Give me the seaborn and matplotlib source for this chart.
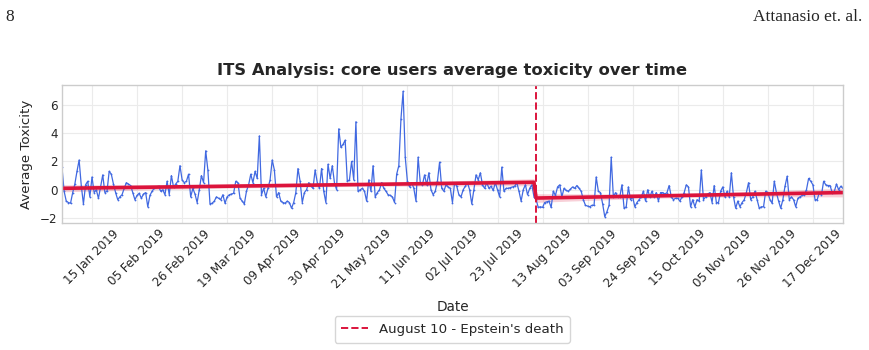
import numpy as np
import pandas as pd
import matplotlib
matplotlib.use('Agg')
import matplotlib.pyplot as plt
import matplotlib.dates as mdates
import seaborn as sns

# daily average toxicity of core users, 2019
jan = [1.6, -0.1, -0.8, -0.9, -0.95, -0.2, 0.4, 1.3, 2.1, 0.3, -1.0, 0.35, 0.6, -0.5, 0.9, -0.2,
       0.0, -0.6, 0.2, 1.05, -0.2, -0.1, 1.3, 1.1, 0.4, -0.2, -0.7, -0.5, -0.35, 0.1, 0.5]
feb = [0.4, 0.3, -0.2, -0.7, -0.4, -0.25, -0.6, -0.3, -0.2, -1.2, -0.4, -0.1, 0.1, 0.2, 0.25,
       -0.1, 0.0, -0.35, 0.6, -0.35, 1.0, 0.2, 0.4, 0.6, 1.7, 0.7, 0.5, 0.6]
mar = [1.1, -0.5, 0.1, -0.3, -0.9, 0.0, 1.0, 0.5, 2.75, 1.4, -1.0, -0.95, -0.8, -0.5, -0.6, -0.7,
       -0.35, -0.95, -0.5, -0.35, -0.3, -0.25, 0.6, 0.5, -0.6, -0.8, -1.0, -0.1, 0.35, 1.1, 0.5]
apr = [1.3, 0.8, 3.8, -0.35, 0.1, -0.5, 0.1, 0.7, 2.1, 1.4, -0.5, -0.2, -0.8, -0.9, -0.95,
       -0.8, -0.9, -1.3, -0.9, -0.2, 1.5, 0.6, -0.9, -0.2, 0.0, 0.5, 0.3, 0.1, 1.4, 0.5]
may = [0.1, 1.5, -0.1, -0.9, 1.8, 0.8, 1.7, 0.5, 0.0, 4.3, 3.0, 3.2, 3.5, 0.6, 0.7, 2.0,
       0.7, 4.8, -0.1, 0.0, 0.1, -0.1, -0.8, 0.7, -0.1, 1.7, -0.5, -0.2, 0.0, 0.5, 0.1]
jun = [-0.1, -0.35, -0.4, -0.5, -0.9, 1.1, 1.7, 5.0, 6.95, 2.3, 0.6, 0.2, 0.5, 0.1, -0.8,
       2.3, 0.5, 0.35, 1.05, 0.35, 1.2, 0.0, -0.35, -0.1, 0.6, 1.95, 0.1, -0.1, 0.35, 0.2]
jul = [0.1, -0.9, 0.5, 0.25, -0.35, -0.5, 0.0, 0.25, 0.5, 0.0, -1.0, 0.0, 1.05, 0.7, 1.2, 0.35,
       0.1, 0.5, 0.1, 0.25, -0.05, 0.5, 0.0, -0.5, 1.6, -0.1, 0.1, 0.1, 0.15, 0.2, 0.25]
aug = [0.5, -0.1, -0.8, 0.0, 0.35, -0.35, 0.1, 0.35, -0.5, -0.7, -1.25, -1.2, -1.25, -0.9,
       -0.85, -0.8, -1.25, -0.1, -0.4, 0.2, 0.35, -0.5, 0.1, -0.05, -0.1, 0.05, 0.2, 0.1, 0.3,
       0.1, -0.1]
sep = [-0.7, -1.1, -1.15, -1.2, -1.1, -1.1, 0.9, -0.1, -0.2, -1.0, -1.9, -1.55, -1.1, 2.3,
       -0.5, -0.2, -0.5, -0.5, 0.35, -1.3, -1.2, 0.2, -0.7, -0.5, -1.2, -0.9, -0.7, -0.5, -0.1, -0.8]
oct_ = [0.0, -0.5, -0.1, -0.5, -0.2, -0.8, -0.2, -0.2, -0.3, -0.2, 0.3, -0.5, -0.7, -0.6, -0.6,
        -0.8, -0.5, -0.2, 0.35, 0.2, -1.2, -0.7, -1.2, -0.7, -0.8, 1.4, -0.7, -0.5, -0.3, -0.2, -0.9]
nov = [0.3, -0.9, -0.9, -0.1, 0.2, -0.5, -0.1, -0.5, 1.2, -0.5, -1.3, -0.8, -1.2, -0.9, -0.7,
       -0.2, 0.5, -0.7, -0.5, -0.1, -0.7, -1.3, -1.2, -1.2, -0.1, -0.2, -0.7, -0.95, 0.6, -0.2]
dec = [-0.8, -1.3, -0.7, 0.25, 0.95, -0.7, -0.5, -0.7, -1.2, -0.6, -0.5, -0.4, -0.35, 0.0, 0.8,
       0.6, 0.35, -0.7, -0.7, -0.2, -0.35, 0.6, 0.35, 0.3, 0.3, -0.2, -0.1, 0.4, 0.0, 0.25, 0.1]

toxicity = jan + feb + mar + apr + may + jun + jul + aug + sep + oct_ + nov + dec
event_date = '2019-08-10'
event_label = "August 10 - Epstein's death"
tick_start = '2019-01-15'

dates = pd.date_range('2019-01-01', '2019-12-31', freq='D')
df = pd.DataFrame({'date': dates, 'toxicity': toxicity})

# interrupted time series: level + trend, change in level + trend after the event
t = np.arange(len(df))
post = (df['date'] >= event_date).to_numpy().astype(float)
t0 = t[post.argmax()]
X = np.column_stack([np.ones_like(t), t, post, post * (t - t0)]).astype(float)
y = df['toxicity'].to_numpy()
beta, *_ = np.linalg.lstsq(X, y, rcond=None)
fit = X @ beta
resid = y - fit
sigma2 = resid @ resid / (len(y) - X.shape[1])
cov = np.linalg.inv(X.T @ X) * sigma2
se = np.sqrt(np.einsum('ij,jk,ik->i', X, cov, X))
df['fit'] = fit

sns.set_style('whitegrid')
plt.rcParams['font.family'] = ['DejaVu Sans']

fig = plt.figure(figsize=(8.69, 3.5), dpi=100)
ax = fig.add_axes([0.0713, 0.363, 0.8987, 0.394])

sns.lineplot(data=df, x='date', y='toxicity', ax=ax, color='royalblue', linewidth=0.9,
             marker='o', markersize=1.3, markeredgewidth=0, legend=False)
ax.fill_between(df['date'], fit - 1.96 * se, fit + 1.96 * se, color='crimson', alpha=0.2, linewidth=0)
sns.lineplot(data=df, x='date', y='fit', ax=ax, color='crimson', linewidth=2.6, legend=False)
ax.axvline(pd.Timestamp(event_date), color='crimson', linestyle='--', linewidth=1.4, label=event_label)

ax.set_xlim(dates[0], dates[-1])
ax.set_xticks(pd.date_range(tick_start, '2019-12-31', freq='21D'))
ax.xaxis.set_major_formatter(mdates.DateFormatter('%d %b %Y'))
ax.set_yticks([-2, 0, 2, 4, 6])
plt.setp(ax.get_xticklabels(), rotation=45, fontsize=8.6)
plt.setp(ax.get_yticklabels(), fontsize=8.6)
ax.tick_params(length=0, pad=3)

ax.grid(color='#ebebeb', linewidth=0.8)
for s in ax.spines.values():
    s.set_color('#cccccc')
    s.set_linewidth(1.0)

ax.set_title('ITS Analysis: core users average toxicity over time', fontsize=11.8,
             fontweight='bold', color='#262626', pad=7)
ax.set_xlabel('Date', fontsize=9.8, color='#262626', labelpad=6)
ax.set_ylabel('Average Toxicity', fontsize=9.6, color='#262626', labelpad=5)

ax.legend(loc='upper center', bbox_to_anchor=(0.5, -0.63), fontsize=9.6, frameon=True,
          handlelength=2.0, borderpad=0.5)

# page header of the paper
fig.text(0.006, 0.975, '8', family='Liberation Serif', fontsize=12.5, va='top')
fig.text(0.992, 0.975, 'Attanasio et. al.', family='Liberation Serif', fontsize=12.5,
         va='top', ha='right')

fig.savefig('out.png', dpi=100)
